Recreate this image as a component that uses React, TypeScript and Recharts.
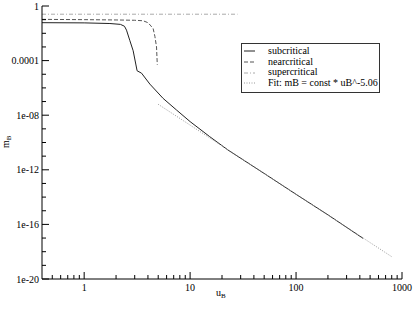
import React from "react";
import { LineChart, Line, XAxis, YAxis, Legend } from "recharts";

// u_B, m_B pairs
const subcritical = [
  { u: 0.4, m: 0.06 },
  { u: 1, m: 0.058 },
  { u: 1.75, m: 0.052 },
  { u: 2.2, m: 0.045 },
  { u: 2.4, m: 0.033 },
  { u: 2.51, m: 0.017 },
  { u: 2.7, m: 0.0029 },
  { u: 2.9, m: 5.3e-4 },
  { u: 3.07, m: 5.6e-5 },
  { u: 3.16, m: 1.8e-5 },
  { u: 3.48, m: 1.2e-5 },
  { u: 4.17, m: 1.9e-6 },
  { u: 5.56, m: 1.7e-7 },
  { u: 7.44, m: 2.4e-8 },
  { u: 10, m: 3.4e-9 },
  { u: 15.3, m: 2.7e-10 },
  { u: 22.8, m: 2.8e-11 },
  { u: 50, m: 5.4e-13 },
  { u: 100, m: 1.6e-14 },
  { u: 200, m: 5e-16 },
  { u: 429, m: 9.5e-18 },
];

const nearcritical = [
  { u: 0.4, m: 0.105 },
  { u: 1, m: 0.1 },
  { u: 2, m: 0.095 },
  { u: 3, m: 0.09 },
  { u: 3.6, m: 0.083 },
  { u: 4.0, m: 0.06 },
  { u: 4.2, m: 0.04 },
  { u: 4.48, m: 0.022 },
  { u: 4.65, m: 0.006 },
  { u: 4.82, m: 0.001 },
  { u: 4.9, m: 5e-5 },
];

const supercritical = [
  { u: 0.4, m: 0.25 },
  { u: 28, m: 0.25 },
];

const fit = [
  { u: 5, m: 6.3e-8 },
  { u: 800, m: 4.3e-19 },
];

const xMajorTicks = [1, 10, 100, 1000];
const xMinorTicks = [
  0.5, 0.6, 0.7, 0.8, 0.9, 2, 3, 4, 5, 6, 7, 8, 9, 20, 30, 40, 50, 60, 70, 80,
  90, 200, 300, 400, 500, 600, 700, 800, 900,
];
const xTickLabels = ["1", "10", "100", "1000"];

const yMajorTicks = [1, 1e-4, 1e-8, 1e-12, 1e-16, 1e-20];
const yMinorTicks = [
  1e-1, 1e-2, 1e-3, 1e-5, 1e-6, 1e-7, 1e-9, 1e-10, 1e-11, 1e-13, 1e-14, 1e-15,
  1e-17, 1e-18, 1e-19,
];
const yTickLabels = ["1", "0.0001", "1e-08", "1e-12", "1e-16", "1e-20"];

const series = [
  { name: "subcritical", data: subcritical, color: "#222", dash: undefined },
  { name: "nearcritical", data: nearcritical, color: "#555", dash: "4 2" },
  { name: "supercritical", data: supercritical, color: "#aaa", dash: "4 2 1 2" },
  { name: "Fit: mB = const * uB^-5.06", data: fit, color: "#999", dash: "1 1.5" },
];

const FONT = "Times New Roman, Liberation Serif, serif";

const xTicks = [...xMajorTicks, ...xMinorTicks].sort((a, b) => a - b);
const yTicks = [...yMajorTicks, ...yMinorTicks].sort((a, b) => a - b);

const XTick = (props: any) => {
  const { x, y, payload, side } = props;
  const idx = xMajorTicks.indexOf(payload.value);
  const len = idx >= 0 ? 7 : 4;
  const dir = side === "bottom" ? -1 : 1;
  return (
    <g>
      <line x1={x} x2={x} y1={y} y2={y + dir * len} stroke="#000" />
      {side === "bottom" && idx >= 0 && (
        <text x={x} y={y + 12} textAnchor="middle" fontSize={10} fontFamily={FONT} fill="#000">
          {xTickLabels[idx]}
        </text>
      )}
    </g>
  );
};

const YTick = (props: any) => {
  const { x, y, payload, side } = props;
  const idx = yMajorTicks.indexOf(payload.value);
  const len = idx >= 0 ? 7 : 4;
  const dir = side === "left" ? 1 : -1;
  return (
    <g>
      <line x1={x} x2={x + dir * len} y1={y} y2={y} stroke="#000" />
      {side === "left" && idx >= 0 && (
        <text x={x - 3} y={y + 3.5} textAnchor="end" fontSize={10} fontFamily={FONT} fill="#000">
          {yTickLabels[idx]}
        </text>
      )}
    </g>
  );
};

const LegendBox = () => (
  <div
    style={{
      border: "1px solid #333",
      background: "#fff",
      width: 137,
      height: 46,
      boxSizing: "content-box",
      paddingTop: 2,
      fontFamily: FONT,
      fontSize: 10,
      lineHeight: "10.7px",
      color: "#000",
    }}
  >
    {series.map((s) => (
      <div key={s.name} style={{ display: "flex", alignItems: "center", height: 10.7 }}>
        <svg width={24} height={6} style={{ marginLeft: 2 }}>
          <line x1={0} x2={11} y1={3} y2={3} stroke={s.color} strokeDasharray={s.dash} />
        </svg>
        <span style={{ whiteSpace: "nowrap" }}>{s.name}</span>
      </div>
    ))}
  </div>
);

export default function App() {
  return (
    <div style={{ position: "absolute", left: 0, top: 0, background: "#fff" }}>
      <LineChart width={415} height={309} margin={{ top: 6, right: 13, left: 0, bottom: 0 }}>
        <XAxis
          xAxisId="b"
          dataKey="u"
          type="number"
          scale="log"
          domain={[0.4, 1000]}
          allowDataOverflow
          ticks={xTicks}
          interval={0}
          tickSize={0}
          tickMargin={0}
          height={30}
          stroke="#000"
          tick={(p: any) => <XTick {...p} side="bottom" />}
        />
        <XAxis
          xAxisId="t"
          orientation="top"
          dataKey="u"
          type="number"
          scale="log"
          domain={[0.4, 1000]}
          allowDataOverflow
          ticks={xTicks}
          interval={0}
          tickSize={0}
          tickMargin={0}
          height={0}
          stroke="#000"
          tick={(p: any) => <XTick {...p} side="top" />}
        />
        <YAxis
          yAxisId="l"
          dataKey="m"
          type="number"
          scale="log"
          domain={[1e-20, 1]}
          allowDataOverflow
          ticks={yTicks}
          interval={0}
          tickSize={0}
          tickMargin={0}
          width={42}
          stroke="#000"
          tick={(p: any) => <YTick {...p} side="left" />}
        />
        <YAxis
          yAxisId="r"
          orientation="right"
          dataKey="m"
          type="number"
          scale="log"
          domain={[1e-20, 1]}
          allowDataOverflow
          ticks={yTicks}
          interval={0}
          tickSize={0}
          tickMargin={0}
          width={0}
          stroke="#000"
          tick={(p: any) => <YTick {...p} side="right" />}
        />
        <Legend
          layout="vertical"
          align="center"
          verticalAlign="middle"
          content={() => <LegendBox />}
          wrapperStyle={{ left: 241, top: 43, width: 140, height: 50 }}
        />
        {series.map((s) => (
          <Line
            key={s.name}
            xAxisId="b"
            yAxisId="l"
            data={s.data}
            dataKey="m"
            name={s.name}
            type="linear"
            stroke={s.color}
            strokeWidth={1}
            strokeDasharray={s.dash}
            dot={false}
            isAnimationActive={false}
          />
        ))}
        {series.map((s) => (
          <Line
            key={s.name + "-mirror"}
            xAxisId="t"
            yAxisId="r"
            data={s.data}
            dataKey="m"
            stroke="none"
            dot={false}
            legendType="none"
            isAnimationActive={false}
          />
        ))}
        <text x={9} y={148} transform="rotate(-90 9 148)" fontFamily={FONT} fontSize={10} fill="#000">
          m<tspan fontSize={7} dy={2}>B</tspan>
        </text>
        <text x={216} y={296} fontFamily={FONT} fontSize={10} fill="#000">
          u<tspan fontSize={7} dy={2}>B</tspan>
        </text>
      </LineChart>
    </div>
  );
}
